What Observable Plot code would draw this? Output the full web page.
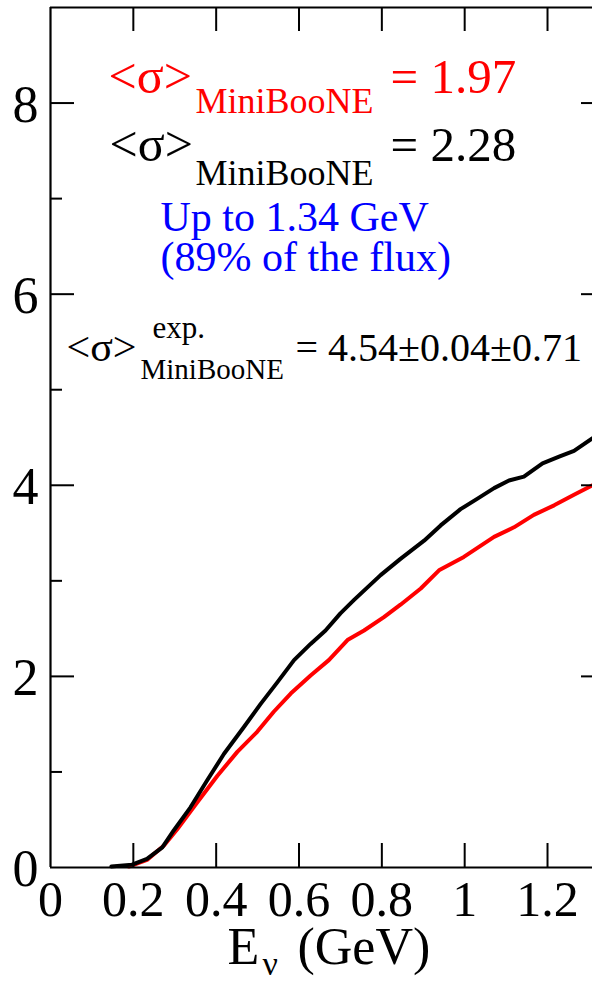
<!DOCTYPE html>
<html>
<head>
<meta charset="utf-8">
<script src="https://cdn.jsdelivr.net/npm/d3@7"></script>
<script src="https://cdn.jsdelivr.net/npm/@observablehq/plot@0.6"></script>
<style>
  html, body { margin: 0; padding: 0; background: #fff; overflow: hidden; }
  #chart svg { display: block; }
</style>
</head>
<body>
<div id="chart"></div>
<script>
// ---- data ----
const blackE = [0.147, 0.197, 0.233, 0.27, 0.298, 0.338, 0.378, 0.419, 0.467, 0.507, 0.548, 0.588, 0.628, 0.664, 0.700, 0.733, 0.797, 0.845, 0.902, 0.942, 0.990, 1.031, 1.071, 1.107, 1.143, 1.188, 1.228, 1.264, 1.308, 1.34];
const blackSigma = [0.01, 0.03, 0.09, 0.21, 0.39, 0.63, 0.91, 1.19, 1.47, 1.71, 1.94, 2.17, 2.34, 2.48, 2.66, 2.80, 3.06, 3.23, 3.42, 3.58, 3.75, 3.86, 3.97, 4.05, 4.09, 4.23, 4.30, 4.36, 4.49, 4.58];
const redE = [0.189, 0.233, 0.274, 0.306, 0.354, 0.403, 0.451, 0.499, 0.539, 0.580, 0.628, 0.672, 0.717, 0.757, 0.805, 0.845, 0.894, 0.938, 0.998, 1.071, 1.119, 1.167, 1.216, 1.264, 1.304, 1.34];
const redSigma = [0.01, 0.08, 0.23, 0.40, 0.68, 0.96, 1.21, 1.42, 1.63, 1.82, 2.01, 2.17, 2.38, 2.48, 2.62, 2.75, 2.92, 3.11, 3.25, 3.46, 3.56, 3.69, 3.79, 3.90, 3.99, 4.07];

const xTicks = [0, 0.2, 0.4, 0.6, 0.8, 1, 1.2];
const xTickLabels = ["0", "0.2", "0.4", "0.6", "0.8", "1", "1.2"];
const yMajor = [0, 2, 4, 6, 8];
const yMajorLabels = ["0", "2", "4", "6", "8"];
const yMinor = [1, 3, 5, 7];

const xDomain = [0, 1.34];
const yDomain = [0, 9];

// ---- build tables ----
const black = blackE.map((e, i) => ({e, s: blackSigma[i]}));
const red = redE.map((e, i) => ({e, s: redSigma[i]}));
const xt = xTicks.map((v, i) => ({v, label: xTickLabels[i]}));
const yt = yMajor.map((v, i) => ({v, label: yMajorLabels[i]}));

// ---- layout ----
const W = 592, H = 981;
const mL = 50, mT = 7, mB = H - 867, mR = 0;
const frameH = H - mT - mB;   // 860
const frameW = W - mL - mR;   // 542
const F = "'Liberation Serif', 'Times New Roman', serif";

function txt(s, dx, baseline, size, color, extra = {}) {
  return Plot.text([s], {
    text: d => d,
    frameAnchor: "top-left",
    dx: dx - mL,
    dy: baseline - mT,
    lineAnchor: "bottom",
    textAnchor: "start",
    fontSize: size,
    fontFamily: F,
    fill: color,
    ...extra
  });
}

const plot = Plot.plot({
  width: W,
  height: H,
  marginLeft: mL,
  marginRight: mR,
  marginTop: mT,
  marginBottom: mB,
  style: {fontFamily: F, background: "#fff"},
  x: {domain: xDomain, range: [mL, 605], axis: null},
  y: {domain: yDomain, range: [867, mT], axis: null},
  marks: [
    // curves
    Plot.line(red, {x: "e", y: "s", stroke: "#ff0000", strokeWidth: 4}),
    Plot.line(black, {x: "e", y: "s", stroke: "#000", strokeWidth: 4}),
    // frame lines
    Plot.ruleX([0], {stroke: "#000", strokeWidth: 2.2}),
    Plot.ruleY([0], {stroke: "#000", strokeWidth: 2.2}),
    Plot.ruleY([9], {stroke: "#000", strokeWidth: 2.2}),
    // inward ticks: bottom and top
    Plot.tickX(xTicks.slice(1), {x: d => d, insetTop: frameH - 24, stroke: "#000", strokeWidth: 2}),
    Plot.tickX(xTicks.slice(1), {x: d => d, insetBottom: frameH - 24, stroke: "#000", strokeWidth: 2}),
    // left ticks
    Plot.tickY(yMajor.slice(1), {y: d => d, insetRight: frameW - 24, stroke: "#000", strokeWidth: 2}),
    Plot.tickY(yMinor, {y: d => d, insetRight: frameW - 12, stroke: "#000", strokeWidth: 2}),
    // right ticks (right axis lies just beyond the visible area)
    Plot.tickY(yMajor.slice(1), {y: d => d, insetLeft: frameW - 11, stroke: "#000", strokeWidth: 2}),
    // tick labels
    Plot.text(xt, {x: "v", text: "label", frameAnchor: "bottom", dy: 48, lineAnchor: "bottom", fontSize: 50, fontFamily: F, fill: "#000"}),
    Plot.text(yt, {y: "v", text: "label", frameAnchor: "left", dx: -12, dy: 2, textAnchor: "end", lineAnchor: "middle", fontSize: 52, fontFamily: F, fill: "#000"}),
    // axis label
    txt("E", 227, 963, 52, "#000"),
    txt("ν", 262, 974, 34, "#000"),
    txt("(GeV)", 297, 963, 52, "#000"),
    // annotations
    txt("<σ>", 108, 92, 50, "#ff0000"),
    txt("MiniBooNE", 195, 112, 36, "#ff0000"),
    txt("= 1.97", 390, 92, 49, "#ff0000"),
    txt("<σ>", 109, 160, 50, "#000"),
    txt("MiniBooNE", 195, 184, 36, "#000"),
    txt("= 2.28", 390, 160, 49, "#000"),
    txt("Up to 1.34 GeV", 160, 230, 42, "#0000ff"),
    txt("(89% of the flux)", 160, 270, 42, "#0000ff"),
    txt("<σ>", 66, 360, 42, "#000"),
    txt("exp.", 152, 337, 31, "#000"),
    txt("MiniBooNE", 140, 378, 29, "#000"),
    txt("= 4.54±0.04±0.71", 295, 360, 40, "#000")
  ]
});
document.getElementById("chart").appendChild(plot);
</script>
</body>
</html>
